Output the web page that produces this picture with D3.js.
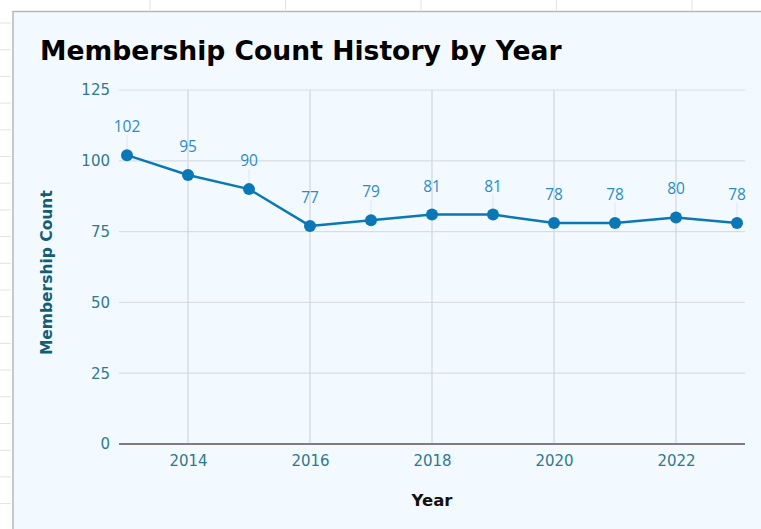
<!DOCTYPE html>
<html>
<head>
<meta charset="utf-8">
<script src="https://cdn.jsdelivr.net/npm/d3@7"></script>
<style>
  body { margin: 0; background: #fff; }
  svg { display: block; }
</style>
</head>
<body>
<div id="chart"></div>
<script>
const years = [2013, 2014, 2015, 2016, 2017, 2018, 2019, 2020, 2021, 2022, 2023];
const members = [102, 95, 90, 77, 79, 81, 81, 78, 78, 80, 78];
const yTicks = [0, 25, 50, 75, 100, 125];
const xTicks = [2014, 2016, 2018, 2020, 2022];

const W = 761, H = 529;
const margin = {top: 90, right: 24, bottom: 85, left: 127};

let svg = d3.select("#chart")
    .append("svg")
    .attr("width", W)
    .attr("height", H);

// parent container edge ticks (the page behind the card)
svg.append("g")
    .selectAll("line")
    .data(d3.range(23, H, 26.7))
    .join("line")
    .attr("x1", 0).attr("x2", 11)
    .attr("y1", d => d).attr("y2", d => d)
    .attr("stroke", "#e2e2e2");

svg.append("g")
    .selectAll("line")
    .data(d3.range(150, W, 135.5))
    .join("line")
    .attr("x1", d => d).attr("x2", d => d)
    .attr("y1", 0).attr("y2", 10)
    .attr("stroke", "#e2e2e2");

// card
svg.append("rect")
    .attr("x", 13).attr("y", 11)
    .attr("width", W).attr("height", H)
    .attr("fill", "#f3faff");
svg.append("path")
    .attr("d", `M13,${H} V11.5 H${W}`)
    .attr("fill", "none")
    .attr("stroke", "#b8b8b8")
    .attr("stroke-width", 1.5);

svg.append("text")
    .attr("x", 40).attr("y", 60)
    .attr("font-family", "DejaVu Sans, Verdana, sans-serif")
    .attr("font-weight", "bold")
    .attr("font-size", 26.6)
    .attr("fill", "#000")
    .text("Membership Count History by Year");

let x = d3.scaleLinear()
    .domain([2013, 2023])
    .range([margin.left, W - margin.right]);

let y = d3.scaleLinear()
    .domain([0, 125])
    .range([H - margin.bottom, margin.top]);

const gridLeft = x(2013) - 8, gridRight = x(2023) + 8;

// horizontal grid
svg.append("g")
    .selectAll("line")
    .data(yTicks.filter(d => d > 0))
    .join("line")
    .attr("x1", gridLeft).attr("x2", gridRight)
    .attr("y1", d => y(d)).attr("y2", d => y(d))
    .attr("stroke", "#d9dde0")
    .attr("stroke-width", 1.2);

// vertical grid
svg.append("g")
    .selectAll("line")
    .data(xTicks)
    .join("line")
    .attr("x1", d => x(d)).attr("x2", d => x(d))
    .attr("y1", y(125)).attr("y2", y(0))
    .attr("stroke", "#d2d6d9")
    .attr("stroke-width", 1.2);

// zero line
svg.append("line")
    .attr("x1", gridLeft).attr("x2", gridRight)
    .attr("y1", y(0)).attr("y2", y(0))
    .attr("stroke", "#7d7d7d")
    .attr("stroke-width", 2);

let yAxis = svg.append("g")
    .attr("transform", "translate(" + (gridLeft - 9) + ",0)")
    .call(d3.axisLeft(y).tickValues(yTicks).tickSize(0).tickPadding(0));
yAxis.select(".domain").remove();
yAxis.selectAll("text")
    .attr("font-family", "DejaVu Sans, Verdana, sans-serif")
    .attr("font-size", 15)
    .attr("fill", "#2f7990");

let xAxis = svg.append("g")
    .attr("transform", "translate(0," + y(0) + ")")
    .call(d3.axisBottom(x).tickValues(xTicks).tickFormat(d3.format("d")).tickSize(0).tickPadding(11));
xAxis.select(".domain").remove();
xAxis.selectAll("text")
    .attr("font-family", "DejaVu Sans, Verdana, sans-serif")
    .attr("font-size", 15)
    .attr("fill", "#2f7990");

svg.append("text")
    .attr("transform", "translate(52," + y(60.5) + ") rotate(-90)")
    .attr("text-anchor", "middle")
    .attr("font-family", "DejaVu Sans, Verdana, sans-serif")
    .attr("font-weight", "bold")
    .attr("font-size", 15.5)
    .attr("fill", "#145e74")
    .text("Membership Count");

svg.append("text")
    .attr("x", x(2018)).attr("y", 506)
    .attr("text-anchor", "middle")
    .attr("font-family", "DejaVu Sans, Verdana, sans-serif")
    .attr("font-weight", "bold")
    .attr("font-size", 16.5)
    .attr("fill", "#111")
    .text("Year");

let data = years.map((d, i) => [d, members[i]]);

// leader lines from labels to points
svg.append("g")
    .selectAll("line")
    .data(data)
    .join("line")
    .attr("x1", d => x(d[0])).attr("x2", d => x(d[0]))
    .attr("y1", d => y(d[1]) - 20).attr("y2", d => y(d[1]))
    .attr("stroke", "#e0e4e7")
    .attr("stroke-width", 1);

let line = d3.line()
    .x(d => x(d[0]))
    .y(d => y(d[1]));

svg.append("path")
    .datum(data)
    .attr("fill", "none")
    .attr("stroke", "#0b78b5")
    .attr("stroke-width", 2.5)
    .attr("stroke-linejoin", "round")
    .attr("d", line);

svg.append("g")
    .selectAll("circle")
    .data(data)
    .join("circle")
    .attr("cx", d => x(d[0]))
    .attr("cy", d => y(d[1]))
    .attr("r", 6)
    .attr("fill", "#0b78b5");

svg.append("g")
    .selectAll("text")
    .data(data)
    .join("text")
    .attr("x", d => x(d[0]))
    .attr("y", d => y(d[1]) - 23)
    .attr("text-anchor", "middle")
    .attr("font-family", "Open Sans, Noto Sans, sans-serif")
    .attr("font-size", 15.5)
    .attr("fill", "#2b8bc6")
    .text(d => d[1]);
</script>
</body>
</html>
